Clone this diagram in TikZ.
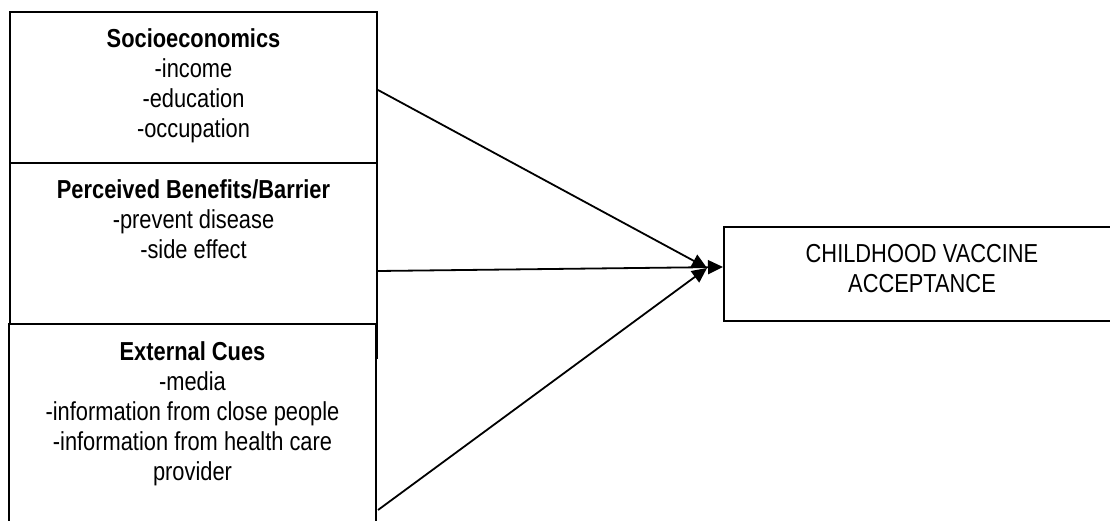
\documentclass[tikz,border=0pt]{standalone}
\usepackage{fontspec}
\setmainfont{Liberation Sans}[FakeStretch=0.84]
\usetikzlibrary{arrows.meta}
\begin{document}
\begin{tikzpicture}[x=1pt,y=-1pt,
  boxstyle/.style={draw=black,line width=1.4pt,fill=white,inner sep=0pt,outer sep=0pt},
  txt/.style={align=center,inner sep=0pt,anchor=north,font=\fontsize{26}{30}\selectfont},
  conn/.style={line width=1.8pt,-{Triangle[length=15pt,width=14pt]}}]
\useasboundingbox (0,0) rectangle (1110,521);
\clip (0,0) rectangle (1110,521);
% boxes
\draw[boxstyle] (10,12) rectangle (377,163);
\coordinate (b1east) at (378,90);
\draw[boxstyle] (10,163) rectangle (377,358);
\coordinate (b2east) at (378,271);
\draw[boxstyle] (9,324) rectangle (376,560);
\coordinate (b3east) at (378,510);
\draw[boxstyle] (724,227) rectangle (1122,321);
% texts
\node[txt] (t1) at (193.5,28) {\textbf{Socioeconomics}\\-income\\-education\\-occupation};
\node[txt] (t2) at (193.5,179) {\textbf{Perceived Benefits/Barrier}\\-prevent disease\\-side effect};
\node[txt] (t3) at (192.5,341) {\textbf{External Cues}\\-media\\-information from close people\\-information from health care\\provider};
\node[txt] (t4) at (922,244) {CHILDHOOD VACCINE\\ACCEPTANCE};
% target points
\coordinate (tipmid) at (723,267);
\coordinate (tipside) at (707,268);
\draw[conn] (b1east) -- (tipside);
\draw[conn] (b3east) -- (tipside);
\draw[conn] (b2east) -- (tipmid);
\end{tikzpicture}
\end{document}
